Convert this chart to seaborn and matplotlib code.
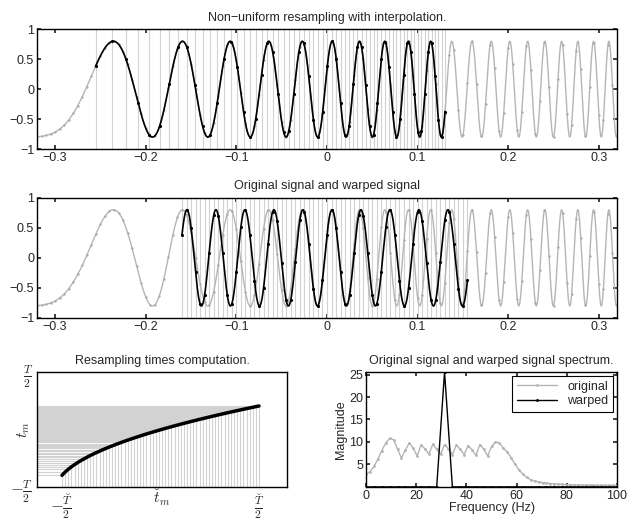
import numpy as np
import matplotlib
matplotlib.use("Agg")
import matplotlib.pyplot as plt
import seaborn as sns
from matplotlib.ticker import FuncFormatter

# --- values ---
amp = 0.8                  # signal amplitude
fs = 200.0                 # sampling rate (Hz)
orig_start, orig_n = -0.32, 128
warp_start, warp_n = -0.16, 64
chirp_zero_time = -0.34    # time where the chirp frequency is 0
chirp_rate = 92.0          # chirp sweep (Hz/s)
tone_freq = 31.25          # frequency of the warped signal (Hz)
tone_cycles0 = 0.329       # phase (cycles) of the first warped sample

orig_freq_step = 1.5625
orig_mag = [2.8, 3.4, 4.6, 6.2, 8.1, 9.8, 10.8, 10.5, 8.4, 6.4,
            8.2, 9.8, 8.6, 6.9, 9.3, 8.5, 7.3, 9.5, 8.4, 7.3,
            9.4, 8.5, 7.2, 9.3, 8.4, 7.2, 9.2, 8.3, 7.0, 9.4,
            8.4, 6.9, 9.0, 10.0, 9.8, 8.6, 7.8, 6.5, 5.0, 3.8,
            2.8, 2.1, 1.6, 1.3, 1.1, 0.95, 0.85, 0.75, 0.68, 0.62,
            0.57, 0.53, 0.5, 0.47, 0.44, 0.42, 0.4, 0.38, 0.37, 0.36,
            0.35, 0.34, 0.34, 0.33, 0.33]
warp_freq_step = 3.125
warp_mag = [0, 0, 0, 0, 0, 0, 0, 0, 0, 0, 25.6, 0, 0, 0, 0, 0, 0,
            0, 0, 0, 0, 0, 0, 0, 0, 0, 0, 0, 0, 0, 0, 0, 0]

title_top = "Non\u2212uniform resampling with interpolation."
title_mid = "Original signal and warped signal"
title_bl = "Resampling times computation."
title_br = "Original signal and warped signal spectrum."

GRAY = "#b5b5b5"
LIGHT = "#d2d2d2"

sns.set_theme(style="ticks")
plt.rcParams["font.family"] = ["Liberation Sans", "DejaVu Sans"]
plt.rcParams.update({
    "font.size": 9, "axes.titlesize": 9, "axes.labelsize": 9,
    "xtick.labelsize": 9, "ytick.labelsize": 9,
    "xtick.direction": "in", "ytick.direction": "in",
    "xtick.top": True, "ytick.right": True,
    "xtick.major.size": 3, "ytick.major.size": 3,
    "axes.linewidth": 1.0, "axes.edgecolor": "black",
    "mathtext.fontset": "cm",
})


def chirp_cycles(t):
    return chirp_rate / 2 * (t - chirp_zero_time) ** 2


def chirp(t):
    return amp * np.cos(2 * np.pi * chirp_cycles(t) + np.pi)


t_orig = orig_start + np.arange(orig_n) / fs
x_orig = chirp(t_orig)
t_fine = np.linspace(orig_start, -orig_start, 2000)
x_fine = chirp(t_fine)

t_warp = warp_start + np.arange(warp_n) / fs
warp_cycles = tone_cycles0 + tone_freq * (t_warp - warp_start)
x_warp = amp * np.cos(2 * np.pi * warp_cycles + np.pi)
t_m = chirp_zero_time + np.sqrt(2 * warp_cycles / chirp_rate)

tw_fine = np.linspace(t_warp[0], t_warp[-1], 800)
xw_fine = amp * np.cos(2 * np.pi * (tone_cycles0 + tone_freq * (tw_fine - warp_start)) + np.pi)
tm_fine = np.linspace(t_m[0], t_m[-1], 800)

fmt = FuncFormatter(lambda v, p: ("%g" % v).replace("-", "\u2212"))

fig = plt.figure(figsize=(6.27, 5.23), dpi=100)
ax1 = fig.add_axes([0.059, 0.715, 0.925, 0.229])
ax2 = fig.add_axes([0.059, 0.392, 0.925, 0.230])
ax3 = fig.add_axes([0.059, 0.069, 0.399, 0.220])
ax4 = fig.add_axes([0.584, 0.069, 0.400, 0.220])

# top: chirp with non-uniform sample times
ax1.vlines(t_m, -1, 1, color=LIGHT, lw=0.8)
sns.lineplot(x=t_fine, y=x_fine, ax=ax1, color=GRAY, lw=1.0)
ax1.plot(t_orig, x_orig, ".", color="#a8a8a8", ms=1.3)
sns.lineplot(x=tm_fine, y=chirp(tm_fine), ax=ax1, color="black", lw=1.2)
ax1.plot(t_m, chirp(t_m), ".", color="black", ms=2.5)

# middle: original and warped signal
ax2.vlines(t_warp, -1, 1, color=LIGHT, lw=0.8)
sns.lineplot(x=t_fine, y=x_fine, ax=ax2, color=GRAY, lw=1.0)
ax2.plot(t_orig, x_orig, ".", color="#a8a8a8", ms=1.3)
sns.lineplot(x=tw_fine, y=xw_fine, ax=ax2, color="black", lw=1.2)
ax2.plot(t_warp, x_warp, ".", color="black", ms=2.5)

for ax, title in [(ax1, title_top), (ax2, title_mid)]:
    ax.set_xlim(orig_start, -orig_start)
    ax.set_ylim(-1, 1)
    ax.set_xticks([-0.3, -0.2, -0.1, 0, 0.1, 0.2, 0.3])
    ax.set_yticks([-1, -0.5, 0, 0.5, 1])
    ax.xaxis.set_major_formatter(fmt)
    ax.yaxis.set_major_formatter(fmt)
    ax.set_title(title, pad=6)
    ax.tick_params(pad=2)

# bottom left: resampling times
half_T = -orig_start
ax3.hlines(t_m, -0.2, t_warp, color=LIGHT, lw=0.8)
ax3.vlines(t_warp, -half_T, t_m, color=LIGHT, lw=0.8)
sns.lineplot(x=t_warp, y=t_m, ax=ax3, color="black", lw=2.5)
ax3.set_xlim(-0.2, 0.2)
ax3.set_ylim(-half_T, half_T)
ax3.set_xticks([t_warp[0], t_warp[-1]])
ax3.set_xticklabels([r"$-\frac{\breve{T}}{2}$", r"$\frac{\breve{T}}{2}$"], fontsize=12)
ax3.set_yticks([-half_T, half_T])
ax3.set_yticklabels([r"$-\frac{T}{2}$", r"$\frac{T}{2}$"], fontsize=12)
ax3.tick_params(length=0, pad=3)
ax3.set_xlabel(r"$\breve{t}_m$", fontsize=11, labelpad=-24)
ax3.set_ylabel(r"$t_m$", fontsize=11, labelpad=-16)
ax3.set_title(title_bl, pad=6)

# bottom right: spectra
f_orig = np.arange(len(orig_mag)) * orig_freq_step
f_warp = np.arange(len(warp_mag)) * warp_freq_step
sns.lineplot(x=f_orig, y=orig_mag, ax=ax4, color=GRAY, lw=1.0,
             marker=".", markersize=2.5, markeredgecolor=GRAY, label="original")
sns.lineplot(x=f_warp, y=warp_mag, ax=ax4, color="black", lw=1.0,
             marker=".", markersize=2.5, markeredgecolor="black", label="warped")
ax4.set_xlim(0, 100)
ax4.set_ylim(0, 25.6)
ax4.set_xticks([0, 20, 40, 60, 80, 100])
ax4.set_yticks([5, 10, 15, 20, 25])
ax4.set_xlabel("Frequency (Hz)", labelpad=0)
ax4.set_ylabel("Magnitude", labelpad=2)
ax4.set_title(title_br, pad=6)
ax4.tick_params(pad=2)
leg = ax4.legend(loc="upper right", fancybox=False, framealpha=1,
                 edgecolor="black", handlelength=3.2, borderaxespad=0.3,
                 labelspacing=0.2, fontsize=9)
leg.get_frame().set_linewidth(0.8)

fig.savefig("out.png", dpi=100)
